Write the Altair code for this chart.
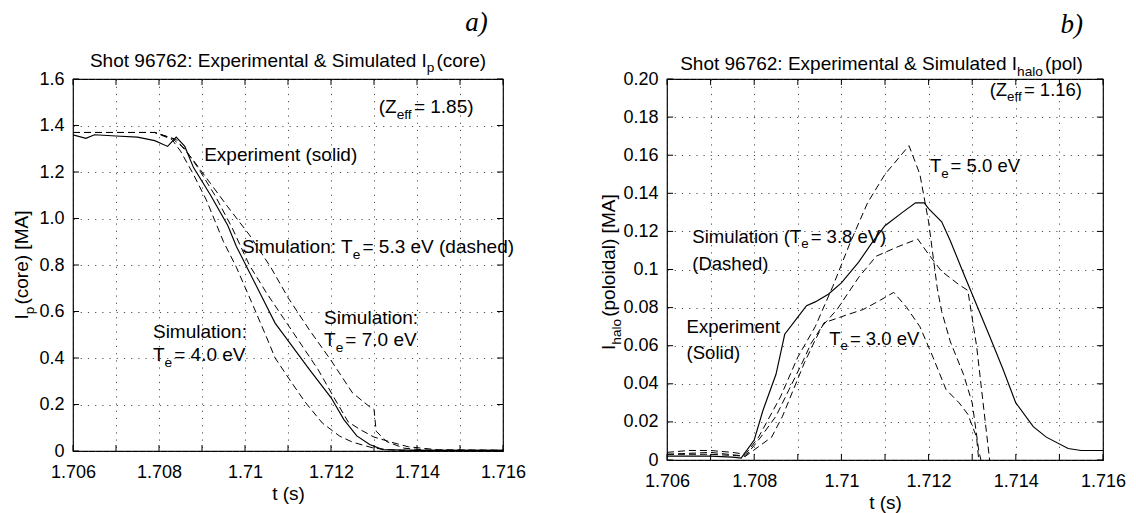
import altair as alt
import pandas as pd

FONT = "Liberation Sans"
SERIF = "Liberation Serif"

# ---------------- Panel a: Ip(core) ----------------
a_x_ticks = [1.706, 1.707, 1.708, 1.709, 1.710, 1.711, 1.712, 1.713, 1.714, 1.715, 1.716]
a_y_ticks = [0.0, 0.2, 0.4, 0.6, 0.8, 1.0, 1.2, 1.4, 1.6]

a_exp_t = [1.7060, 1.7063, 1.7065, 1.7070, 1.7075, 1.7079, 1.7082, 1.7084, 1.7086, 1.7088,
           1.7092, 1.7096, 1.7098, 1.7101, 1.7104, 1.7107, 1.7111, 1.7115, 1.7120, 1.7123,
           1.7126, 1.7129, 1.7132, 1.7140, 1.7160]
a_exp_v = [1.36, 1.345, 1.36, 1.355, 1.35, 1.335, 1.31, 1.35, 1.31, 1.22,
           1.10, 0.97, 0.88, 0.77, 0.66, 0.55, 0.45, 0.35, 0.23, 0.135,
           0.065, 0.028, 0.006, 0.003, 0.003]

a_40_t = [1.7060, 1.7079, 1.7083, 1.7085, 1.7088, 1.7091, 1.7095, 1.7098, 1.7102, 1.7105,
          1.7107, 1.7111, 1.7114, 1.7118, 1.7122, 1.7125, 1.7130, 1.7135, 1.7160]
a_40_v = [1.37, 1.37, 1.34, 1.29, 1.19, 1.08, 0.90, 0.79, 0.62, 0.49,
          0.40, 0.29, 0.21, 0.12, 0.064, 0.038, 0.012, 0.003, 0.003]

a_53_t = [1.7060, 1.7079, 1.7083, 1.7086, 1.7089, 1.7093, 1.7097, 1.7101, 1.7105, 1.7109,
          1.7113, 1.7117, 1.7121, 1.7124, 1.7127, 1.7130, 1.7134, 1.7138, 1.7145, 1.7160]
a_53_v = [1.37, 1.37, 1.345, 1.30, 1.22, 1.10, 0.96, 0.80, 0.68, 0.57,
          0.46, 0.35, 0.22, 0.125, 0.09, 0.06, 0.038, 0.018, 0.005, 0.003]

a_70_t = [1.7060, 1.7079, 1.7084, 1.7088, 1.7092, 1.7096, 1.7101, 1.7106, 1.7110, 1.7115,
          1.7120, 1.7125, 1.7129, 1.7130, 1.71305, 1.7133, 1.7137, 1.7142, 1.7160]
a_70_v = [1.37, 1.37, 1.34, 1.25, 1.15, 1.05, 0.93, 0.79, 0.66, 0.52,
          0.39, 0.25, 0.19, 0.18, 0.085, 0.04, 0.012, 0.004, 0.003]

# ---------------- Panel b: Ihalo(pol) ----------------
b_x_ticks = [1.706, 1.707, 1.708, 1.709, 1.710, 1.711, 1.712, 1.713, 1.714, 1.715, 1.716]
b_y_ticks = [0.0, 0.02, 0.04, 0.06, 0.08, 0.10, 0.12, 0.14, 0.16, 0.18, 0.20]

b_exp_t = [1.7060, 1.7065, 1.7070, 1.7075, 1.7077, 1.7080, 1.7082, 1.7085, 1.7087, 1.7090,
           1.7092, 1.7094, 1.7097, 1.7100, 1.7104, 1.7107, 1.7110, 1.7114, 1.7117, 1.7119,
           1.7120, 1.7123, 1.7125, 1.7128, 1.7130, 1.7134, 1.7137, 1.7140, 1.7144, 1.7147,
           1.7152, 1.7155, 1.7160]
b_exp_v = [0.002, 0.002, 0.002, 0.0015, 0.001, 0.0105, 0.026, 0.045, 0.066, 0.075,
           0.081, 0.083, 0.087, 0.093, 0.104, 0.114, 0.123, 0.130, 0.135, 0.135,
           0.132, 0.125, 0.115, 0.098, 0.087, 0.065, 0.048, 0.030, 0.0175, 0.012,
           0.006, 0.005, 0.005]

b_50_t = [1.7060, 1.7065, 1.7070, 1.7075, 1.7078, 1.7081, 1.7086, 1.7090, 1.7094, 1.7098,
          1.7102, 1.7106, 1.7110, 1.71155, 1.7118, 1.7120, 1.7122, 1.7123, 1.7125, 1.7128,
          1.7130, 1.71315, 1.7132]
b_50_v = [0.004, 0.005, 0.005, 0.004, 0.003, 0.012, 0.033, 0.054, 0.070, 0.091,
          0.114, 0.135, 0.150, 0.165, 0.150, 0.125, 0.090, 0.078, 0.062, 0.045,
          0.030, 0.005, 0.0]

b_38_t = [1.7060, 1.7070, 1.7078, 1.70815, 1.7085, 1.7088, 1.7091, 1.7093, 1.70955, 1.7099,
          1.7104, 1.7108, 1.7113, 1.71175, 1.7120, 1.7123, 1.7127, 1.7129, 1.7131, 1.7133,
          1.7134]
b_38_v = [0.003, 0.004, 0.002, 0.012, 0.023, 0.037, 0.051, 0.061, 0.070, 0.079,
          0.096, 0.107, 0.112, 0.116, 0.108, 0.099, 0.092, 0.089, 0.060, 0.020,
          0.0]

b_30_t = [1.7060, 1.7070, 1.7078, 1.7084, 1.70865, 1.7089, 1.70915, 1.7094, 1.7096, 1.7101,
          1.7105, 1.7109, 1.7112, 1.7115, 1.7118, 1.7121, 1.7124, 1.7127, 1.7129, 1.7131,
          1.71315]
b_30_v = [0.003, 0.003, 0.002, 0.012, 0.023, 0.037, 0.051, 0.063, 0.072, 0.076,
          0.079, 0.084, 0.088, 0.080, 0.070, 0.054, 0.037, 0.030, 0.024, 0.012,
          0.0]

# Arial / Liberation Sans advance widths (per 1000 em)
W = {' ': 278, '(': 333, ')': 333, '&': 667, '.': 278, ':': 278, '=': 584, '[': 278, ']': 278,
     'A': 667, 'E': 667, 'I': 278, 'M': 833, 'S': 667, 'T': 611, 'V': 667, 'Z': 611, 'D': 722,
     'a': 556, 'c': 500, 'd': 556, 'e': 556, 'f': 278, 'h': 556, 'i': 222, 'l': 222, 'm': 833,
     'n': 556, 'o': 556, 'p': 556, 'r': 333, 's': 500, 't': 278, 'u': 556, 'x': 500, 'b': 556}
for _d in "0123456789":
    W[_d] = 556

SUB = 0.72
SUB_GAP = 2.0
DASH = [7, 4]


def tw(s, size):
    return sum(W.get(c, 556) for c in s) * size / 1000.0


def panel(series, xdom, ydom, xticks, yticks, ylab_expr, texts, w, h, tl_t, tl_v):
    xs = alt.Scale(domain=xdom, nice=False, zero=False)
    ys = alt.Scale(domain=ydom, nice=False, zero=False)
    xax = alt.Axis(values=xticks,
                   labelExpr="(round(datum.value*1000) % 2 == 0) ? format(datum.value, '.4~f') : ''",
                   title="t (s)", grid=True, ticks=False, domain=False,
                   labelFont=FONT, labelFontSize=18, labelColor="black", labelPadding=12,
                   titleFont=FONT, titleFontSize=19, titleFontWeight="normal", titleColor="black",
                   titlePadding=3, gridDash=[1.2, 6], gridColor="#333", gridOpacity=0.85,
                   labelFlush=False)
    yax = alt.Axis(values=yticks, labelExpr=ylab_expr, title=None, grid=True, ticks=False,
                   domain=False, labelFont=FONT, labelFontSize=18, labelColor="black",
                   labelPadding=9, gridDash=[1.2, 6], gridColor="#333", gridOpacity=0.85,
                   labelFlush=False)
    X = lambda f: alt.X(f, type="quantitative", scale=xs, axis=xax)
    Y = lambda f: alt.Y(f, type="quantitative", scale=ys, axis=yax)

    layers = []
    for i, (name, ts, vs) in enumerate(series):
        d = pd.DataFrame({"t": ts, "v": vs, "s": name})
        kw = dict(color="black", strokeWidth=1.15 if i == 0 else 1.0, clip=True)
        if i > 0:
            kw["strokeDash"] = DASH
        layers.append(alt.Chart(d).mark_line(**kw).encode(x=X("t"), y=Y("v")))

    # inward ticks on all four sides
    tb = pd.DataFrame({"t": xticks * 2,
                       "v0": [ydom[0]] * len(xticks) + [ydom[1]] * len(xticks),
                       "v1": [ydom[0] + tl_v] * len(xticks) + [ydom[1] - tl_v] * len(xticks)})
    lr = pd.DataFrame({"v": yticks * 2,
                       "t0": [xdom[0]] * len(yticks) + [xdom[1]] * len(yticks),
                       "t1": [xdom[0] + tl_t] * len(yticks) + [xdom[1] - tl_t] * len(yticks)})
    layers.append(alt.Chart(tb).mark_rule(color="black", strokeWidth=1).encode(
        x=X("t"), y=Y("v0"), y2="v1"))
    layers.append(alt.Chart(lr).mark_rule(color="black", strokeWidth=1).encode(
        x=X("t0"), x2="t1", y=Y("v")))

    for tx in texts:
        x, y, segs, size = tx["x"], tx["y"], tx["segs"], tx["size"]
        font = tx.get("font", FONT)
        style = tx.get("style", "normal")
        angle = tx.get("angle", 0)
        dy0 = tx.get("dy0", 0)
        sizes = [size * SUB if sub else size for _, sub in segs]
        widths = [tw(s, sz) + (SUB_GAP if sub else 0) for (s, sub), sz in zip(segs, sizes)]
        total = sum(widths)
        start = -total / 2 if tx.get("align", "left") == "center" else 0
        cum = start
        for (s, sub), sz, wd in zip(segs, sizes, widths):
            d = pd.DataFrame({"x": [x], "y": [y], "txt": [s]})
            kw = dict(align="left", baseline="alphabetic", font=font, fontSize=sz,
                      fontStyle=style, color="black", dx=cum,
                      dy=dy0 + (0.3 * size if sub else 0))
            if angle:
                kw["angle"] = angle
            layers.append(alt.Chart(d).mark_text(**kw).encode(
                x=X("x"), y=Y("y"), text="txt:N"))
            cum += wd

    return alt.layer(*layers).properties(width=w, height=h)


a_texts = [
    dict(x=1.711, y=1.653, size=19, align="center",
         segs=[("Shot 96762: Experimental & Simulated I", 0), ("p", 1), ("(core)", 0)]),
    dict(x=1.7154, y=1.806, size=27, align="center", font=SERIF, style="italic", segs=[("a)", 0)]),
    dict(x=1.71311, y=1.454, size=19, segs=[("(Z", 0), ("eff", 1), (" = 1.85)", 0)]),
    dict(x=1.70905, y=1.248, size=19, segs=[("Experiment (solid)", 0)]),
    dict(x=1.70993, y=0.85, size=19, segs=[("Simulation: T", 0), ("e", 1), (" = 5.3 eV (dashed)", 0)]),
    dict(x=1.71184, y=0.545, size=19, segs=[("Simulation:", 0)]),
    dict(x=1.71184, y=0.45, size=19, segs=[("T", 0), ("e", 1), (" = 7.0 eV", 0)]),
    dict(x=1.70786, y=0.488, size=19, segs=[("Simulation:", 0)]),
    dict(x=1.70786, y=0.385, size=19, segs=[("T", 0), ("e", 1), (" = 4.0 eV", 0)]),
    dict(x=1.706, y=0.8, size=19, align="center", angle=270, dy0=-45,
         segs=[("I", 0), ("p", 1), ("(core) [MA]", 0)]),
]

b_texts = [
    dict(x=1.71092, y=0.2048, size=19, align="center",
         segs=[("Shot 96762: Experimental & Simulated I", 0), ("halo", 1), ("(pol)", 0)]),
    dict(x=1.7153, y=0.2241, size=27, align="center", font=SERIF, style="italic", segs=[("b)", 0)]),
    dict(x=1.7134, y=0.1912, size=18.5, segs=[("(Z", 0), ("eff", 1), (" = 1.16)", 0)]),
    dict(x=1.71203, y=0.151, size=18.5, segs=[("T", 0), ("e", 1), (" = 5.0 eV", 0)]),
    dict(x=1.70658, y=0.114, size=18.5, segs=[("Simulation (T", 0), ("e", 1), (" = 3.8 eV)", 0)]),
    dict(x=1.70658, y=0.0998, size=18.5, segs=[("(Dashed)", 0)]),
    dict(x=1.70645, y=0.0668, size=18.5, segs=[("Experiment", 0)]),
    dict(x=1.70645, y=0.0528, size=18.5, segs=[("(Solid)", 0)]),
    dict(x=1.70972, y=0.0605, size=18.5, segs=[("T", 0), ("e", 1), (" = 3.0 eV", 0)]),
    dict(x=1.706, y=0.1, size=19, align="center", angle=270, dy0=-52,
         segs=[("I", 0), ("halo", 1), (" (poloidal) [MA]", 0)]),
]

pa = panel([("Experiment", a_exp_t, a_exp_v), ("Te 4.0", a_40_t, a_40_v),
            ("Te 5.3", a_53_t, a_53_v), ("Te 7.0", a_70_t, a_70_v)],
           [1.706, 1.716], [0, 1.6], a_x_ticks, a_y_ticks,
           "datum.value == 0 ? '0' : format(datum.value, '.1f')",
           a_texts, 430, 372, 0.00014, 0.0258)

pb = panel([("Experiment", b_exp_t, b_exp_v), ("Te 5.0", b_50_t, b_50_v),
            ("Te 3.8", b_38_t, b_38_v), ("Te 3.0", b_30_t, b_30_v)],
           [1.706, 1.716], [0, 0.2], b_x_ticks, b_y_ticks,
           "datum.value == 0 ? '0' : (abs(datum.value - 0.2) < 1e-9 ? '0.20' : format(datum.value, '.2~f'))",
           b_texts, 436, 381, 0.00014, 0.00315)

chart = alt.hconcat(pa, pb, spacing=72).configure_view(
    stroke="black", strokeWidth=1.2
).properties(
    background="white", padding={"left": 4, "top": 0, "right": 0, "bottom": 0}
)

chart.save("out.html", embed_options={"renderer": "svg", "actions": False})
